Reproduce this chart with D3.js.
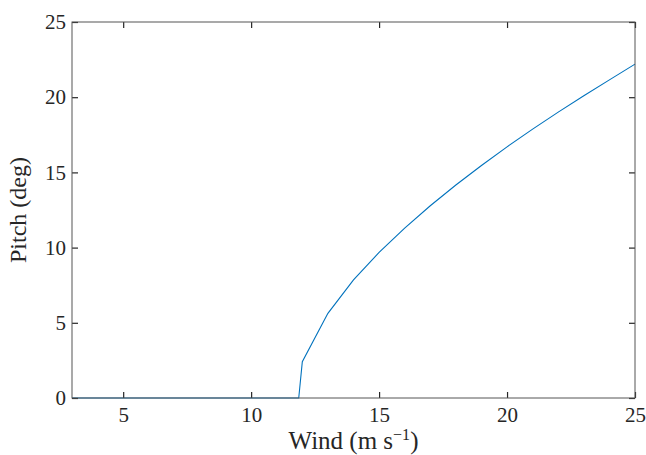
<!DOCTYPE html>
<html>
<head>
<meta charset="utf-8">
<script src="https://cdn.jsdelivr.net/npm/d3@7"></script>
<style>
  body { margin: 0; background: #fff; }
</style>
</head>
<body>
<div id="chart"></div>
<script>
const wind = [3, 11.86, 12, 13, 14, 15, 16, 17, 18, 19, 20, 21, 22, 23, 24, 25]
const pitch = [0, 0, 2.41, 5.63, 7.85, 9.68, 11.3, 12.78, 14.16, 15.46, 16.7, 17.88, 19.01, 20.1, 21.15, 22.2]
const xTicks = [5, 10, 15, 20, 25]
const yTicks = [0, 5, 10, 15, 20, 25]

const FONT = 'Liberation Serif'
const W = 646
const H = 455
const margin = { top: 22, left: 72, right: 11, bottom: 57 }
const width = W - margin.left - margin.right
const height = H - margin.top - margin.bottom

let svg = d3.select('#chart').append('svg')
  .attr('width', W)
  .attr('height', H)
  .append('g')
  .attr('transform', `translate(${margin.left},${margin.top})`)

const xScale = d3.scaleLinear().domain([3, 25]).range([0, width])
const yScale = d3.scaleLinear().domain([0, 25]).range([height, 0])

let data = wind.map((w, i) => ({ x: w, y: pitch[i] }))

svg.append('path')
  .datum(data)
  .style('fill', 'none')
  .style('stroke', '#0072BD')
  .style('stroke-width', 1.1)
  .attr('d', d3.line().x(d => xScale(d.x)).y(d => yScale(d.y)))

// axes with inward ticks on all four sides
let xb = svg.append('g').attr('transform', `translate(0,${height})`)
  .call(d3.axisBottom(xScale).tickValues(xTicks).tickSizeInner(-6).tickSizeOuter(0).tickPadding(9))
let xt = svg.append('g')
  .call(d3.axisTop(xScale).tickValues(xTicks).tickSizeInner(-6).tickSizeOuter(0).tickFormat(''))
let yl = svg.append('g')
  .call(d3.axisLeft(yScale).tickValues(yTicks).tickSizeInner(-6).tickSizeOuter(0).tickPadding(6))
let yr = svg.append('g').attr('transform', `translate(${width},0)`)
  .call(d3.axisRight(yScale).tickValues(yTicks).tickSizeInner(-6).tickSizeOuter(0).tickFormat(''))

;[xb, xt, yl, yr].forEach(a => {
  a.attr('font-family', FONT).attr('font-size', 21)
  a.select('.domain').remove()
  a.selectAll('line').style('stroke', '#262626').style('stroke-width', 1.2)
  a.selectAll('text').style('fill', '#262626')
})

svg.append('rect')
  .attr('x', 0).attr('y', 0)
  .attr('width', width).attr('height', height)
  .style('fill', 'none')
  .style('stroke', '#555')
  .style('stroke-width', 1)

// x label
let xl = svg.append('text')
  .attr('x', width / 2)
  .attr('y', height + 51)
  .attr('text-anchor', 'middle')
  .attr('font-family', FONT)
  .attr('font-size', 25)
  .style('fill', '#262626')
xl.append('tspan').text('Wind (m s')
xl.append('tspan').attr('dy', -9).attr('font-size', 16).text('\u22121')
xl.append('tspan').attr('dy', 9).text(')')

svg.append('text')
  .attr('transform', `translate(-46,${height / 2}) rotate(-90)`)
  .attr('text-anchor', 'middle')
  .attr('font-family', FONT)
  .attr('font-size', 24)
  .style('fill', '#262626')
  .text('Pitch (deg)')
</script>
</body>
</html>
